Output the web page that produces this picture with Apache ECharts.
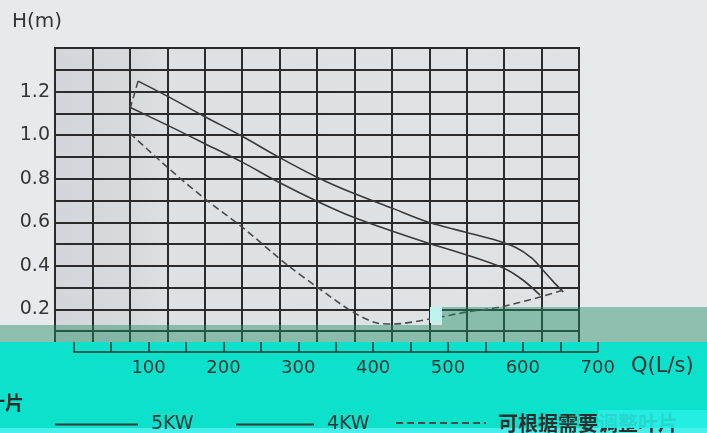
<!DOCTYPE html>
<html>
<head>
<meta charset="utf-8">
<script src="https://cdn.jsdelivr.net/npm/echarts@6/dist/echarts.min.js"></script>
<style>
html,body{margin:0;padding:0;background:#e7eaed;}
#chart{width:707px;height:433px;}
</style>
</head>
<body>
<div id="chart"></div>
<script>
// Flow Q (L/s) and head H (m)
var curve5kwQ = [86, 125, 174, 225, 274, 325, 373, 425, 473, 503, 525, 560, 590, 612, 627, 640, 654];
var curve5kwH = [1.248, 1.179, 1.087, 0.995, 0.899, 0.807, 0.734, 0.665, 0.601, 0.573, 0.553, 0.522, 0.485, 0.435, 0.380, 0.330, 0.280];
var curve4kwQ = [75, 125, 174, 225, 274, 325, 373, 425, 473, 525, 574, 600, 623];
var curve4kwH = [1.128, 1.046, 0.963, 0.876, 0.784, 0.697, 0.624, 0.560, 0.505, 0.450, 0.390, 0.335, 0.266];
var adjustQ = [75, 125, 174, 225, 266, 289, 325, 373, 405, 427, 476, 525, 570, 623, 654];
var adjustH = [1.009, 0.853, 0.711, 0.578, 0.459, 0.394, 0.303, 0.188, 0.138, 0.133, 0.156, 0.188, 0.211, 0.257, 0.289];
var adjustTopQ = [86, 76];
var adjustTopH = [1.248, 1.130];
var yTickLabels = ['0.2', '0.4', '0.6', '0.8', '1.0', '1.2'];
var xTickLabels = ['100', '200', '300', '400', '500', '600', '700'];
var seriesNames = ['5KW', '4KW', '可根据需要调整叶片'];

function zip(a, b) { return a.map(function (v, i) { return [v, b[i]]; }); }

var chart = echarts.init(document.getElementById('chart'), null, {renderer: 'canvas'});
var gridColor = '#2b2b2b';
var txt = '#353535';
var legendBase = {top: 410, itemHeight: 20, selectedMode: false, z: 100, itemStyle: {opacity: 0}};
var option = {
  backgroundColor: '#e7eaed',
  animation: false,
  grid: [
    {left: 55, top: 48, width: 524, height: 305, show: true, borderColor: gridColor, borderWidth: 2,
     backgroundColor: new echarts.graphic.LinearGradient(0, 0, 1, 0, [
       {offset: 0, color: '#d3d6da'}, {offset: 0.15, color: '#d7dadd'},
       {offset: 0.22, color: '#dee1e4'}, {offset: 1, color: '#e0e3e6'}])},
    {left: 73.7, top: 342, width: 524, height: 10}
  ],
  xAxis: [
    {type: 'value', gridIndex: 0, min: 0, max: 14, interval: 1,
     axisLine: {show: false}, axisTick: {show: false}, axisLabel: {show: false},
     splitLine: {show: true, lineStyle: {color: gridColor, width: 2}}},
    {type: 'value', gridIndex: 0, min: -25, max: 675, show: false, splitLine: {show: false}},
    {type: 'value', gridIndex: 1, min: 0, max: 700, interval: 50, position: 'bottom', z: 100,
     axisLine: {show: true, lineStyle: {color: '#333', width: 1.5}},
     axisTick: {show: true, inside: true, length: 10, lineStyle: {color: '#333', width: 1.5}},
     splitLine: {show: false},
     axisLabel: {margin: 7, color: txt, fontSize: 18, fontFamily: 'DejaVu Sans',
       formatter: function (v) { var s = String(Math.round(v)); return xTickLabels.indexOf(s) >= 0 ? s : ''; }}}
  ],
  yAxis: [
    {type: 'value', gridIndex: 0, min: 0, max: 1.4, interval: 0.1,
     axisLine: {show: false}, axisTick: {show: false},
     splitLine: {show: true, lineStyle: {color: gridColor, width: 2}},
     axisLabel: {margin: 5, color: txt, fontSize: 19, fontFamily: 'DejaVu Sans', padding: [8, 0, 0, 0],
       formatter: function (v) { var s = (Math.round(v * 10) / 10).toFixed(1); return yTickLabels.indexOf(s) >= 0 ? s : ''; }}},
    {type: 'value', gridIndex: 1, show: false, min: 0, max: 1}
  ],
  legend: [
    Object.assign({}, legendBase, {left: 49, data: [seriesNames[0]], itemWidth: 83,
     textStyle: {color: txt, fontSize: 19, fontFamily: 'DejaVu Sans', padding: [0, 0, 0, 8]}}),
    Object.assign({}, legendBase, {left: 230, data: [seriesNames[1]], itemWidth: 78,
     textStyle: {color: txt, fontSize: 19, fontFamily: 'DejaVu Sans', padding: [0, 0, 0, 8]}}),
    Object.assign({}, legendBase, {left: 390, top: 408, data: [seriesNames[2]], itemWidth: 90,
     textStyle: {color: '#2d2d2d', fontSize: 20, fontWeight: 'bold', fontFamily: 'Noto Sans CJK SC', padding: [0, 0, 0, 7]}})
  ],
  series: [
    {name: seriesNames[0], type: 'line', xAxisIndex: 1, yAxisIndex: 0, data: zip(curve5kwQ, curve5kwH),
     symbol: 'none', smooth: 0.3, color: '#3a3a3a', lineStyle: {color: '#3a3a3a', width: 1.6}},
    {name: seriesNames[1], type: 'line', xAxisIndex: 1, yAxisIndex: 0, data: zip(curve4kwQ, curve4kwH),
     symbol: 'none', smooth: 0.3, color: '#3a3a3a', lineStyle: {color: '#3a3a3a', width: 1.6}},
    {name: seriesNames[2], type: 'line', xAxisIndex: 1, yAxisIndex: 0, data: zip(adjustQ, adjustH),
     symbol: 'none', smooth: 0.3, color: '#4a4a4a', lineStyle: {color: '#4a4a4a', width: 1.6, type: [7, 4]}},
    {name: seriesNames[2], type: 'line', xAxisIndex: 1, yAxisIndex: 0, data: zip(adjustTopQ, adjustTopH),
     symbol: 'none', color: '#4a4a4a', lineStyle: {color: '#4a4a4a', width: 1.6, type: [7, 4]}}
  ],
  graphic: {elements: [
    {type: 'text', left: 12, top: 12, z: 100, style: {text: 'H(m)', fill: txt, fontSize: 20, fontFamily: 'DejaVu Sans'}},
    // scan overlay bands
    {type: 'rect', z: 50, shape: {x: 0, y: 325, width: 442, height: 17}, style: {fill: 'rgba(30,141,100,0.45)'}},
    {type: 'rect', z: 50, shape: {x: 442, y: 307, width: 265, height: 35}, style: {fill: 'rgba(30,141,100,0.45)'}},
    {type: 'rect', z: 51, shape: {x: 430, y: 307, width: 12, height: 16}, style: {fill: '#bdf4ee'}},
    {type: 'rect', z: 50, shape: {x: 0, y: 342, width: 707, height: 91}, style: {fill: '#0be1cb'}},
    {type: 'rect', z: 50, shape: {x: 0, y: 428, width: 707, height: 5}, style: {fill: '#48f0ec'}},
    {type: 'text', left: 631, top: 356, z: 100, style: {text: 'Q(L/s)', fill: txt, fontSize: 21, fontFamily: 'DejaVu Sans'}},
    {type: 'text', left: -14, top: 393, z: 100, style: {text: '叶片', fill: '#2d2d2d', fontSize: 19, fontWeight: 'bold', fontFamily: 'Noto Sans CJK SC'}},
    {type: 'rect', z: 200, shape: {x: 598, y: 410, width: 109, height: 18}, style: {fill: 'rgba(40,238,228,0.88)'}}
  ]}
};
chart.setOption(option);
</script>
</body>
</html>
